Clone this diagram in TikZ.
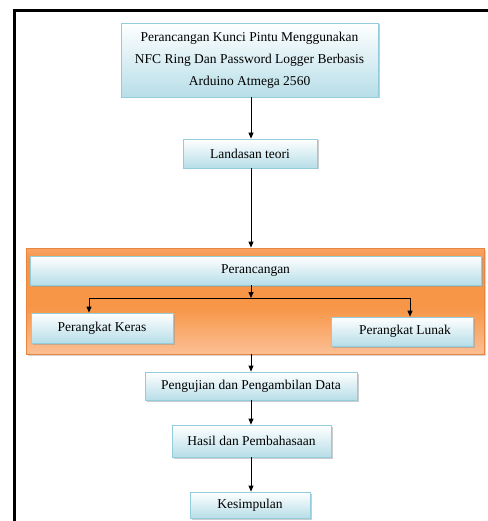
\documentclass[tikz,border=0pt]{standalone}
\usepackage{fontspec}
\setmainfont{Liberation Serif}
\usetikzlibrary{arrows.meta,shadows}
\definecolor{bbord}{HTML}{93CDDD}
\definecolor{bfill}{HTML}{B7DEE8}
\definecolor{obord}{HTML}{E9853C}
\definecolor{otop}{HTML}{F8A468}
\definecolor{omid}{HTML}{F79646}
\definecolor{obot}{HTML}{FBBF95}
\pgfdeclareverticalshading{orangeband}{100bp}{color(0bp)=(obot); color(25bp)=(obot); color(47bp)=(omid); color(70bp)=(omid); color(75bp)=(otop); color(100bp)=(otop)}
\begin{document}
\begin{tikzpicture}[x=1pt,y=-1pt,
  font=\fontsize{13.5}{22}\selectfont,
  box/.style={draw=bbord, line width=0.8pt, top color=white, bottom color=bfill,
    drop shadow={shadow xshift=1.5pt, shadow yshift=-1.5pt, fill=black!40, opacity=0.5},
    inner sep=0pt, align=center},
  grpbox/.style={draw=obord, line width=0.8pt, shading=orangeband,
    drop shadow={shadow xshift=1.5pt, shadow yshift=-1.5pt, fill=black!40, opacity=0.4},
    inner sep=0pt},
  arr/.style={-{Triangle[length=6pt,width=5pt]}, line width=0.8pt},
  ln/.style={line width=0.8pt}]
\useasboundingbox (0,0) rectangle (487,521);
\draw[line width=3pt] (14.5,522) -- (14.5,11) -- (488,11);

\node[box, minimum width=257pt, minimum height=74pt] (title) at (249.5,60)
  {Perancangan Kunci Pintu Menggunakan\\NFC Ring Dan Password Logger Berbasis\\Arduino Atmega 2560};
\node[box, minimum width=134pt, minimum height=29pt] (land) at (250,153.5) {Landasan teori};

\node[grpbox, minimum width=458pt, minimum height=106pt] (grp) at (255,301) {};
\node[box, minimum width=451pt, minimum height=29pt] (perc) at (255.5,270.5) {Perancangan};
\node[box, minimum width=142pt, minimum height=30pt] (keras) at (102,328) {Perangkat Keras};
\node[box, minimum width=142pt, minimum height=29pt] (lunak) at (402,331.5) {\hspace*{6pt}Perangkat Lunak};

\node[box, minimum width=212pt, minimum height=28pt] (peng) at (251,386) {Pengujian dan Pengambilan Data};
\node[box, minimum width=159pt, minimum height=32pt] (hasil) at (251.5,441) {Hasil dan Pembahasaan};
\node[box, minimum width=120pt, minimum height=26pt] (kes) at (250,505) {Kesimpulan};

\coordinate (j) at (251,298);
\coordinate (jl) at (89,298);
\coordinate (jr) at (410,298);

\draw[arr] (title.south -| j) -- (land.north -| j);
\draw[arr] (land.south -| j) -- (grp.north -| j);
\draw[arr] (perc.south -| j) -- (j);
\draw[ln] (jl) -- (jr);
\draw[arr] (jl) -- (jl |- keras.north);
\draw[arr] (jr) -- (jr |- lunak.north);
\draw[arr] (grp.south -| j) -- (peng.north -| j);
\draw[arr] (peng.south -| j) -- (hasil.north -| j);
\draw[arr] (hasil.south -| j) -- (kes.north -| j);
\end{tikzpicture}
\end{document}
